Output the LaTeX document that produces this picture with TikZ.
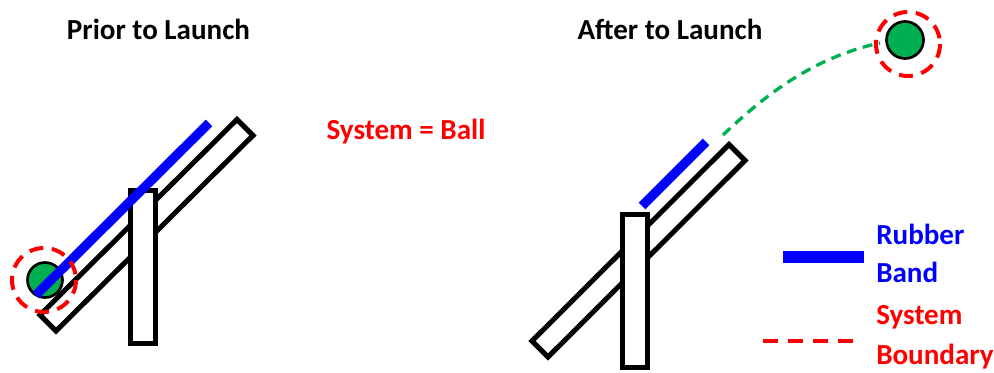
\documentclass[tikz,border=0pt]{standalone}
\usepackage{fontspec}
\setmainfont{Carlito}
\usetikzlibrary{positioning}
\definecolor{bandBlue}{RGB}{0,0,255}
\definecolor{ballGreen}{RGB}{0,176,80}
\definecolor{sysRed}{RGB}{255,0,0}

\begin{document}
\begin{tikzpicture}[
		x=0.75pt, y=-0.75pt,
		title/.style={font=\fontsize{21.8}{26}\selectfont\bfseries, inner sep=0pt, anchor=base},
		legend/.style={font=\fontsize{21.8}{26}\selectfont\bfseries, inner sep=0pt, anchor=base west},
		board/.style={draw, line width=3.75pt, fill=white},
		band/.style={draw=bandBlue, line width=7pt},
		ball/.style={draw, line width=2pt, fill=ballGreen},
		boundary/.style={draw=sysRed, line width=3pt, dash pattern=on 10.5pt off 6.5pt},
		flight/.style={draw=ballGreen, line width=2.5pt, dash pattern=on 7.5pt off 5pt}
	]
	\useasboundingbox (0,0) rectangle (994,373);

	% prior to launch
	\draw[board] (40,315) -- (237,119.5) -- (253,135.5) -- (56,331) -- cycle;
	\draw[board] (130.5,190.5) rectangle (155.5,343.5);
	\draw[ball] (45,280) circle[radius=17.5];
	\draw[band] (36,295) -- (209,123);
	\draw[boundary] (44,280) circle[radius=32];

	% after launch
	\draw[board] (532,341) -- (729,144.5) -- (745,160.5) -- (548,357) -- cycle;
	\draw[board] (622.5,214.5) rectangle (647.5,367.5);
	\draw[band] (642,206) -- (706,142);
	\draw[flight] (723,135) .. controls (767,93) and (815,57) .. (880,43);
	\draw[ball] (905,40) circle[radius=18.5];
	\draw[boundary] (908,44) circle[radius=32];

	% labels
	\node[title] (prior) at (158.5,39.3) {Prior to Launch};
	\node[title] (after) at (670,39.3) {After to Launch};
	\node[title, sysRed] (sysball) at (406,139.3) {System = Ball};

	% legend
	\draw[band, line width=8.5pt] (783,257) -- (864,257);
	\node[legend, bandBlue] (rubber) at (876,245) {Rubber};
	\node[legend, bandBlue] (bandtext) at (876,283) {Band};
	\draw[boundary, dash pattern=on 11.25pt off 7.5pt] (763,340.7) -- (862,340.7);
	\node[legend, sysRed] (system) at (876,325) {System};
	\node[legend, sysRed] (boundtext) at (876,364) {Boundary};
\end{tikzpicture}
\end{document}
